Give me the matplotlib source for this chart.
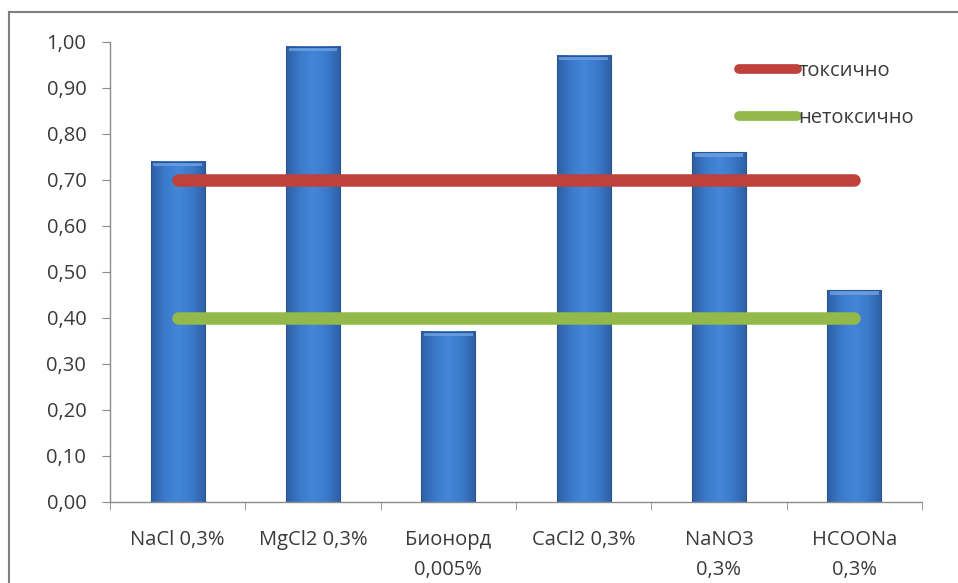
import numpy as np
import matplotlib
matplotlib.use("Agg")
import matplotlib.pyplot as plt
from matplotlib.colors import LinearSegmentedColormap
from matplotlib.lines import Line2D

plt.rcParams['font.family'] = ['Open Sans', 'DejaVu Sans']

categories = ["NaCl 0,3%", "MgCl2 0,3%", "Бионорд\n0,005%", "CaCl2 0,3%", "NaNO3\n0,3%", "HCOONa\n0,3%"]
values = [0.74, 0.99, 0.37, 0.97, 0.76, 0.46]
toxic_level = [0.70] * 6
nontoxic_level = [0.40] * 6
yticks = [0.0, 0.1, 0.2, 0.3, 0.4, 0.5, 0.6, 0.7, 0.8, 0.9, 1.0]

text_color = "#3a3a3a"
axis_color = "#8c8c8c"

fig = plt.figure(figsize=(9.58, 5.83), dpi=100)
ax = fig.add_axes([0.1148, 0.139, 0.8476, 0.789])

x = np.arange(len(categories))
bar_w = 0.4

# bars with a horizontal shading
bar_cmap = LinearSegmentedColormap.from_list(
    "bar", ["#2d5fa3", "#3b7acb", "#4386d8", "#3b7acb", "#2d5fa3"])
bars = ax.bar(x, values, width=bar_w, color="none", edgecolor="none", zorder=2)
grad = np.linspace(0, 1, 64).reshape(1, -1)
for b in bars:
    x0, y0 = b.get_x(), b.get_y()
    w, h = b.get_width(), b.get_height()
    ax.imshow(grad, cmap=bar_cmap, aspect="auto", extent=[x0, x0 + w, y0, y0 + h],
              zorder=2, interpolation="bicubic")
    # soft highlight along the top edge
    ax.fill_between([x0 + 0.02, x0 + w - 0.02], y0 + h - 0.01, y0 + h,
                    color="#6ea2e4", alpha=0.8, zorder=3, lw=0)
    ax.plot([x0, x0, x0 + w, x0 + w], [y0, y0 + h, y0 + h, y0], color="#2a5590", lw=0.8, zorder=3)

ax.plot(x, toxic_level, color="#c0413c", lw=9, solid_capstyle="round", zorder=4)
ax.plot(x, nontoxic_level, color="#92b94a", lw=9, solid_capstyle="round", zorder=4)

ax.set_xlim(-0.5, len(categories) - 0.5)
ax.set_ylim(0, 1.0)
ax.set_yticks(yticks)
ax.set_yticklabels([f"{v:.2f}".replace(".", ",") for v in yticks])
ax.set_xticks(x)
ax.set_xticklabels(categories, linespacing=1.7)
ax.set_xticks(np.arange(-0.5, len(categories), 1.0), minor=True)

for s in ("top", "right"):
    ax.spines[s].set_visible(False)
for s in ("left", "bottom"):
    ax.spines[s].set_color(axis_color)
    ax.spines[s].set_linewidth(1.0)

ax.tick_params(axis="y", direction="out", length=6, color=axis_color, labelsize=14.5,
               labelcolor=text_color, pad=11)
ax.tick_params(axis="x", which="major", length=0, labelsize=14.5, labelcolor=text_color, pad=20)
ax.tick_params(axis="x", which="minor", direction="out", length=6, color=axis_color)

handles = [Line2D([], [], color="#c0413c", lw=7, solid_capstyle="round"),
           Line2D([], [], color="#92b94a", lw=7, solid_capstyle="round")]
leg = ax.legend(handles, ["токсично", "нетоксично"], loc="upper left",
                bbox_to_anchor=(0.752, 0.998), frameon=False, fontsize=14.5,
                handlelength=2.9, handletextpad=0.05, labelspacing=1.35, labelcolor=text_color)

# outer frame (top and left edges)
fig.add_artist(Line2D([9 / 958, 9 / 958], [0, 1 - 12 / 583], transform=fig.transFigure,
                      color="#7f7f7f", lw=1.5))
fig.add_artist(Line2D([9 / 958, 1], [1 - 12 / 583, 1 - 12 / 583], transform=fig.transFigure,
                      color="#7f7f7f", lw=1.5))

fig.savefig("out.png", dpi=100)
